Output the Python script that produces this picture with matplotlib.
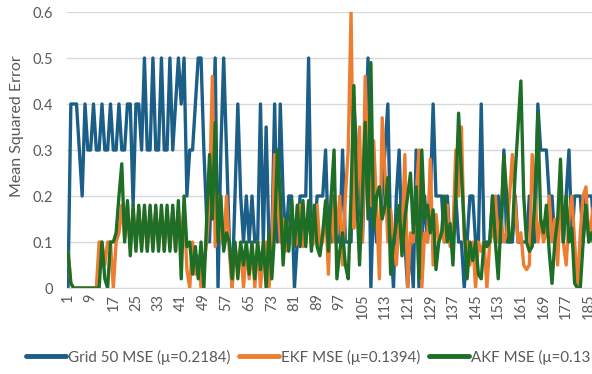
import matplotlib
matplotlib.use("Agg")
import matplotlib.pyplot as plt
import numpy as np

# Per-run mean squared error for each estimator
grid50_mse = [
    0, 0.4, 0.4, 0.4, 0.3, 0.2, 0.4, 0.3, 0.3, 0.4,
    0.3, 0.3, 0.4, 0.3, 0.3, 0.4, 0.3, 0.3, 0.4, 0.3,
    0.3, 0.4, 0.4, 0.18, 0.4, 0.4, 0.3, 0.5, 0.3, 0.3,
    0.5, 0.3, 0.3, 0.5, 0.3, 0.3, 0.5, 0.3, 0.4, 0.5,
    0.4, 0.5, 0.2, 0.3, 0.3, 0.4, 0.5, 0.5, 0.3, 0.15,
    0.1, 0.3, 0.5, 0.0, 0.3, 0.5, 0.3, 0.1, 0.0, 0.2,
    0.4, 0.2, 0.1, 0.2, 0.1, 0.2, 0.1, 0.1, 0.4, 0.1,
    0.35, 0.1, 0.1, 0.4, 0.1, 0.4, 0.2, 0.1, 0.2, 0.2,
    0.0, 0.1, 0.2, 0.2, 0.2, 0.5, 0.1, 0.1, 0.2, 0.2,
    0.2, 0.3, 0.1, 0.1, 0.2, 0.1, 0.1, 0.3, 0.1, 0.1,
    0.1, 0.4, 0.3, 0.2, 0.1, 0.3, 0.5, 0.0, 0.2, 0.1,
    0.1, 0.2, 0.3, 0.4, 0.1, 0.0, 0.2, 0.3, 0.1, 0.1,
    0.0, 0.1, 0.0, 0.3, 0.0, 0.1, 0.2, 0.1, 0.2, 0.4,
    0.2, 0.2, 0.2, 0.1, 0.2, 0.1, 0.1, 0.2, 0.1, 0.1,
    0.0, 0.1, 0.2, 0.2, 0.1, 0.1, 0.4, 0.1, 0.1, 0.1,
    0.2, 0.1, 0.2, 0.1, 0.3, 0.1, 0.1, 0.1, 0.2, 0.1,
    0.1, 0.1, 0.1, 0.2, 0.1, 0.1, 0.4, 0.3, 0.3, 0.3,
    0.2, 0.2, 0.1, 0.1, 0.2, 0.1, 0.2, 0.3, 0.1, 0.2,
    0.2, 0.2, 0.1, 0.2, 0.2, 0.2, 0.1, 0.2,
]

ekf_mse = [
    0.08, 0.01, 0, 0, 0, 0, 0, 0, 0, 0,
    0, 0.1, 0.1, 0.05, 0.1, 0.1, 0.0, 0.1, 0.12, 0.18,
    0.11, 0.18, 0.09, 0.17, 0.09, 0.17, 0.09, 0.17, 0.08, 0.17,
    0.09, 0.17, 0.09, 0.17, 0.08, 0.17, 0.09, 0.17, 0.08, 0.17,
    0.1, 0.18, 0.04, 0.0, 0.1, 0.03, 0.07, 0.0, 0.05, 0.1,
    0.2, 0.46, 0.09, 0.2, 0.12, 0.09, 0.2, 0.08, 0.0, 0.09,
    0.05, 0.09, 0.0, 0.09, 0.02, 0.09, 0.0, 0.1, 0.0, 0.08,
    0.1, 0.0, 0.08, 0.29, 0.2, 0.1, 0.15, 0.08, 0.09, 0.17,
    0.09, 0.1, 0.18, 0.09, 0.1, 0.18, 0.09, 0.1, 0.18, 0.09,
    0.1, 0.18, 0.03, 0.2, 0.1, 0.12, 0.2, 0.05, 0.2, 0.3,
    0.6, 0.13, 0.2, 0.35, 0.1, 0.46, 0.25, 0.18, 0.32, 0.18,
    0.02, 0.37, 0.25, 0.1, 0.17, 0.1, 0.05, 0.15, 0.1, 0.29,
    0.0, 0.12, 0.1, 0.2, 0.3, 0.0, 0.12, 0.1, 0.28, 0.05,
    0.16, 0.1, 0.12, 0.1, 0.18, 0.09, 0.12, 0.3, 0.2, 0.35,
    0.1, 0.1, 0.05, 0.1, 0.0, 0.1, 0.08, 0.1, 0.0, 0.1,
    0.12, 0.2, 0.1, 0.15, 0.1, 0.12, 0.2, 0.29, 0.18, 0.1,
    0.12, 0.05, 0.04, 0.05, 0.29, 0.2, 0.1, 0.15, 0.1, 0.12,
    0.2, 0.1, 0.15, 0.05, 0.2, 0.1, 0.05, 0.15, 0.2, 0.1,
    0.0, 0.12, 0.2, 0.22, 0.1, 0.15, 0.2, 0.1,
]

akf_mse = [
    0.08, 0.01, 0, 0, 0, 0, 0, 0, 0, 0,
    0, 0, 0.1, 0.02, 0.0, 0.1, 0.1, 0.12, 0.2, 0.27,
    0.1, 0.19, 0.07, 0.18, 0.08, 0.18, 0.08, 0.18, 0.08, 0.18,
    0.08, 0.18, 0.08, 0.18, 0.08, 0.18, 0.08, 0.18, 0.08, 0.19,
    0.02, 0.2, 0.09, 0.1, 0.03, 0.09, 0.02, 0.1, 0.0, 0.15,
    0.29, 0.15, 0.36, 0.1, 0.2, 0.08, 0.12, 0.1, 0.02, 0.1,
    0.02, 0.1, 0.05, 0.1, 0.03, 0.1, 0.02, 0.1, 0.04, 0.1,
    0.0, 0.12, 0.02, 0.12, 0.3, 0.2, 0.05, 0.15, 0.08, 0.19,
    0.09, 0.18, 0.09, 0.19, 0.09, 0.19, 0.08, 0.18, 0.09, 0.07,
    0.12, 0.19, 0.08, 0.2, 0.3, 0.02, 0.08, 0.12, 0.05, 0.02,
    0.2, 0.44, 0.2, 0.05, 0.2, 0.36, 0.15, 0.49, 0.13, 0.2,
    0.22, 0.15, 0.18, 0.24, 0.03, 0.1, 0.14, 0.18, 0.07, 0.15,
    0.2, 0.25, 0.12, 0.22, 0.02, 0.3, 0.15, 0.18, 0.12, 0.17,
    0.04, 0.1, 0.12, 0.2, 0.1, 0.14, 0.05, 0.2, 0.38, 0.25,
    0.13, 0.02, 0.1, 0.06, 0.1, 0.03, 0.02, 0.1, 0.09, 0.1,
    0.2, 0.1, 0.02, 0.15, 0.29, 0.2, 0.1, 0.12, 0.25, 0.35,
    0.45, 0.2, 0.1, 0.08, 0.09, 0.2, 0.38, 0.15, 0.12, 0.18,
    0.08, 0.01, 0.1, 0.15, 0.28, 0.1, 0.2, 0.1, 0.13, 0.01,
    0.0, 0.0, 0.1, 0.18, 0.1, 0.12, 0.08, 0.1,
]

series_labels = [
    "Grid 50 MSE (\u03bc=0.2184)",
    "EKF MSE (\u03bc=0.1394)",
    "AKF MSE (\u03bc=0.1312)",
]
series_colors = ["#1b5e87", "#ed7d31", "#1e6e26"]

n_categories = 210
tick_step = 8

plt.rcParams["font.family"] = ["Lato", "DejaVu Sans"]
text_color = "#595959"
grid_color = "#d9d9d9"

fig = plt.figure(figsize=(5.92, 3.74), dpi=100)
# the plot area runs past the right edge of the canvas
ax = fig.add_axes([0.1125, 0.2299, 1.004, 0.738])

runs = np.arange(1, len(grid50_mse) + 1)
handles = []
for values, label, color in zip([grid50_mse, ekf_mse, akf_mse], series_labels, series_colors):
    (h,) = ax.plot(runs[:len(values)], values, color=color, lw=2.4,
                   solid_joinstyle="round", solid_capstyle="round", label=label)
    handles.append(h)

ax.set_xlim(0.5, n_categories + 0.5)
ax.set_ylim(0, 0.6)
ax.set_yticks(np.arange(0, 0.61, 0.1))
ax.set_yticklabels(["0"] + [f"{v:.1f}" for v in np.arange(0.1, 0.61, 0.1)])
xt = np.arange(1, n_categories + 1, tick_step)
ax.set_xticks(xt)
ax.set_xticklabels([str(v) for v in xt], rotation=90)

ax.grid(axis="y", color=grid_color, lw=1.0)
ax.set_axisbelow(True)
for side in ["top", "right", "left"]:
    ax.spines[side].set_visible(False)
ax.spines["bottom"].set_color(grid_color)
ax.tick_params(axis="both", length=0, colors=text_color, labelsize=10.5)
ax.tick_params(axis="x", pad=4)
ax.tick_params(axis="y", pad=10)
ax.set_ylabel("Mean Squared Error", color=text_color, fontsize=11.5)
ax.yaxis.set_label_coords(-0.072, 0.585)

leg = fig.legend(handles=handles, labels=series_labels, loc="center",
                 bbox_to_anchor=(0.539, 0.045), ncol=3, frameon=False,
                 fontsize=10.9, handlelength=2.6, handletextpad=0.15,
                 columnspacing=0.6)
for t in leg.get_texts():
    t.set_color(text_color)
for lh in leg.get_lines():
    lh.set_linewidth(3.5)

fig.savefig("out.png", dpi=100)
